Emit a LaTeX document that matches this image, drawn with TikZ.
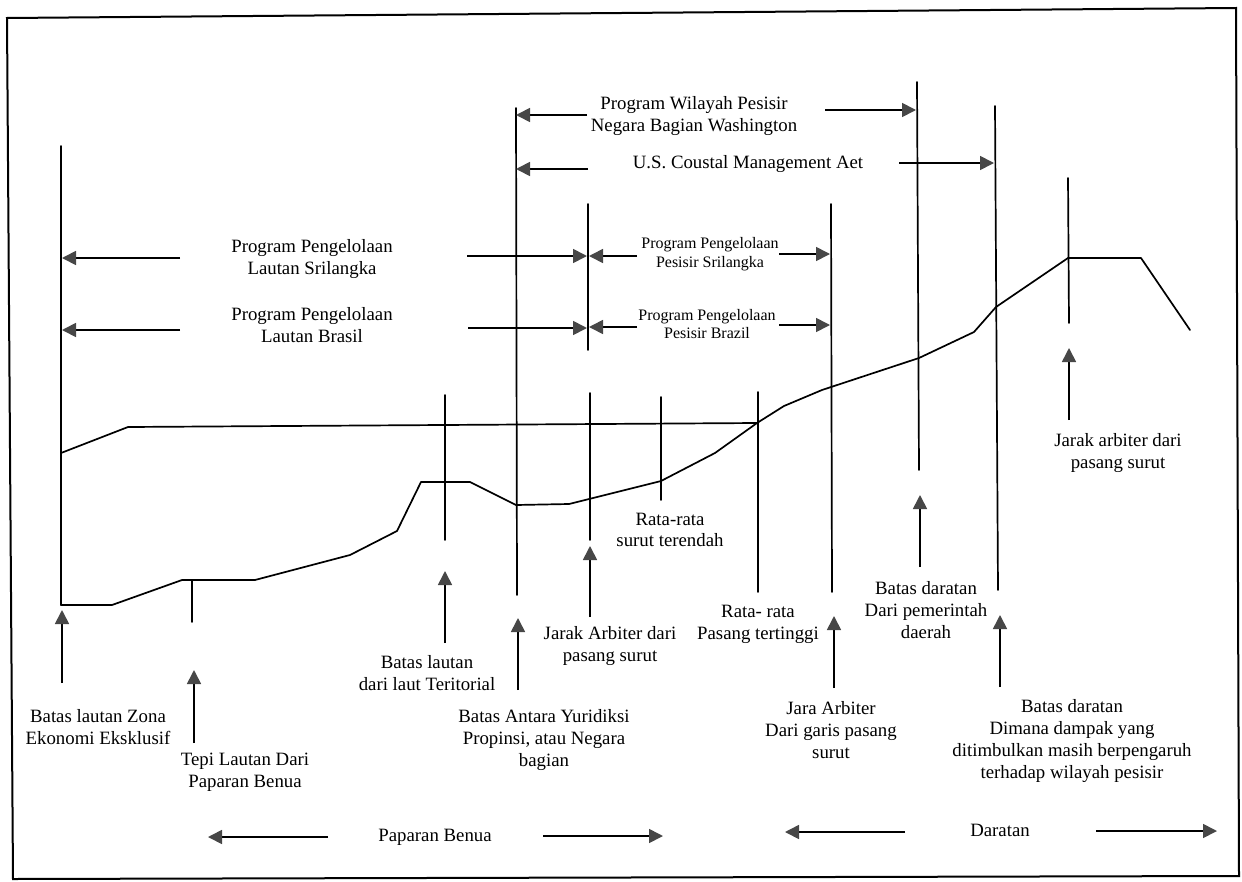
\documentclass[tikz,border=0pt]{standalone}
\usepackage{fontspec}
\setmainfont{Liberation Serif}
\usetikzlibrary{arrows.meta}
\begin{document}
\begin{tikzpicture}[x=1pt,y=-1pt,
  ln/.style={line width=1.7pt,line cap=round,line join=round},
  arr/.style={line width=1.7pt,-{Triangle[length=14pt,width=14pt,color=black!72]}},
  lbl/.style={font=\fontsize{18.8}{21.8}\selectfont,align=center,inner sep=0pt},
  slbl/.style={font=\fontsize{16}{18.5}\selectfont,align=center,inner sep=0pt}]
\useasboundingbox (0,0) rectangle (1242,881);
% frame
\coordinate (f1) at (7,18); \coordinate (f2) at (1236,8);
\coordinate (f3) at (1239,876); \coordinate (f4) at (13,879);
\draw[line width=2pt] (f1) -- (f2) -- (f3) -- (f4) -- cycle;

% vertical boundary lines
\coordinate (vAt) at (61,146);   \coordinate (vAb) at (61,605);
\coordinate (vTt) at (192,580);  \coordinate (vTb) at (192,622);
\coordinate (vRt) at (445,395);  \coordinate (vRb) at (445,540);
\coordinate (vYt) at (516,108);  \coordinate (vYb) at (517,595);
\coordinate (vSt) at (588,204);  \coordinate (vSb) at (588,350);
\coordinate (vJt) at (590,393);  \coordinate (vJb) at (590,540);
\coordinate (vLt) at (661,397);  \coordinate (vLb) at (661,500);
\coordinate (vHt) at (758,392);  \coordinate (vHb) at (758,592);
\coordinate (vPt) at (831,204);  \coordinate (vPb) at (832,592);
\coordinate (vDt) at (917,82);   \coordinate (vDb) at (919,470);
\coordinate (vEt) at (995,106);  \coordinate (vEb) at (998,590);
\coordinate (vKt) at (1068,178); \coordinate (vKb) at (1069,323);
\foreach \a/\b in {vAt/vAb,vTt/vTb,vRt/vRb,vYt/vYb,vSt/vSb,vJt/vJb,vLt/vLb,vHt/vHb,vPt/vPb,vDt/vDb,vEt/vEb,vKt/vKb}
  \draw[ln] (\a) -- (\b);

% sea level
\draw[ln] (61,453) -- (128,427) -- (757,423);
% sea bed / land profile
\draw[ln] (61,605) -- (112,605) -- (182,580) -- (255,580) -- (350,555) -- (397,531)
  -- (421,482) -- (470,482) -- (516,505) -- (569,504) -- (589,499) -- (661,481)
  -- (715,453) -- (757,423) -- (784,406) -- (822,390) -- (919,358) -- (974,332)
  -- (996,307) -- (1068,258) -- (1141,258) -- (1190,330);

% range labels and arrows (top)
\node[lbl] (tWash) at (694,116) {Program Wilayah Pesisir\\Negara Bagian Washington};
\coordinate (w1) at (587,115); \coordinate (w1e) at (516,115);
\coordinate (w2) at (825,110); \coordinate (w2e) at (916,110);
\draw[arr] (w1) -- (w1e); \draw[arr] (w2) -- (w2e);

\node[lbl] (tUS) at (748,164) {U.S. Coustal Management Aet};
\coordinate (u1) at (588,169); \coordinate (u1e) at (516,169);
\coordinate (u2) at (899,163); \coordinate (u2e) at (994,163);
\draw[arr] (u1) -- (u1e); \draw[arr] (u2) -- (u2e);

\node[lbl] (tSriL) at (312,259) {Program Pengelolaan\\Lautan Srilangka};
\coordinate (s1) at (180,258); \coordinate (s1e) at (62,258);
\coordinate (s2) at (467,256); \coordinate (s2e) at (587,256);
\draw[arr] (s1) -- (s1e); \draw[arr] (s2) -- (s2e);

\node[lbl] (tBraL) at (312,325) {Program Pengelolaan\\Lautan Brasil};
\coordinate (b1) at (180,330); \coordinate (b1e) at (62,330);
\coordinate (b2) at (468,328); \coordinate (b2e) at (587,328);
\draw[arr] (b1) -- (b1e); \draw[arr] (b2) -- (b2e);

\node[slbl] (tSriP) at (710,254) {Program Pengelolaan\\Pesisir Srilangka};
\coordinate (p1) at (637,256); \coordinate (p1e) at (589,256);
\coordinate (p2) at (779,254); \coordinate (p2e) at (830,254);
\draw[arr] (p1) -- (p1e); \draw[arr] (p2) -- (p2e);

\node[slbl] (tBraP) at (707,324) {Program Pengelolaan\\Pesisir Brazil};
\coordinate (q1) at (637,327); \coordinate (q1e) at (589,327);
\coordinate (q2) at (779,325); \coordinate (q2e) at (830,325);
\draw[arr] (q1) -- (q1e); \draw[arr] (q2) -- (q2e);

% upward pointer arrows
\coordinate (a1) at (62,683);   \coordinate (a1e) at (62,610);
\coordinate (a2) at (194,743);  \coordinate (a2e) at (194,670);
\coordinate (a3) at (445,643);  \coordinate (a3e) at (445,571);
\coordinate (a4) at (518,690);  \coordinate (a4e) at (518,618);
\coordinate (a5) at (590,617);  \coordinate (a5e) at (590,546);
\coordinate (a6) at (834,688);  \coordinate (a6e) at (834,616);
\coordinate (a7) at (920,567);  \coordinate (a7e) at (920,495);
\coordinate (a8) at (1000,687); \coordinate (a8e) at (1000,615);
\coordinate (a9) at (1069,420); \coordinate (a9e) at (1069,348);
\foreach \a in {a1,a2,a3,a4,a5,a6,a7,a8,a9}
  \draw[arr] (\a) -- (\a e);

% point labels
\node[lbl] (tZEE) at (98,727) {Batas lautan Zona\\Ekonomi Eksklusif};
\node[lbl] (tTepi) at (245,772) {Tepi Lautan Dari\\Paparan Benua};
\node[lbl] (tTerr) at (427,673) {Batas lautan\\dari laut Teritorial};
\node[lbl] (tYur) at (544,740) {Batas Antara Yuridiksi\\Propinsi, atau Negara\\bagian};
\node[lbl] (tJar1) at (610,646) {Jarak Arbiter dari\\pasang surut};
\node[lbl] (tRat1) at (670,530) {Rata-rata\\surut terendah};
\node[lbl] (tRat2) at (758,624) {Rata- rata\\Pasang tertinggi};
\node[lbl] (tJara) at (831,730) {Jara Arbiter\\Dari garis pasang\\surut};
\node[lbl] (tDaer) at (926,610) {Batas daratan\\Dari pemerintah\\daerah};
\node[lbl] (tDamp) at (1072,741) {Batas daratan\\Dimana dampak yang\\ditimbulkan masih berpengaruh\\terhadap wilayah pesisir};
\node[lbl] (tJar2) at (1118,453) {Jarak arbiter dari\\pasang surut};

% bottom zones
\node[lbl] (tPap) at (435,837) {Paparan Benua};
\coordinate (z1) at (328,837); \coordinate (z1e) at (208,837);
\coordinate (z2) at (543,836); \coordinate (z2e) at (663,836);
\draw[arr] (z1) -- (z1e); \draw[arr] (z2) -- (z2e);

\node[lbl] (tDar) at (1000,830) {Daratan};
\coordinate (d1) at (905,832);  \coordinate (d1e) at (785,832);
\coordinate (d2) at (1096,831); \coordinate (d2e) at (1217,831);
\draw[arr] (d1) -- (d1e); \draw[arr] (d2) -- (d2e);
\end{tikzpicture}
\end{document}
